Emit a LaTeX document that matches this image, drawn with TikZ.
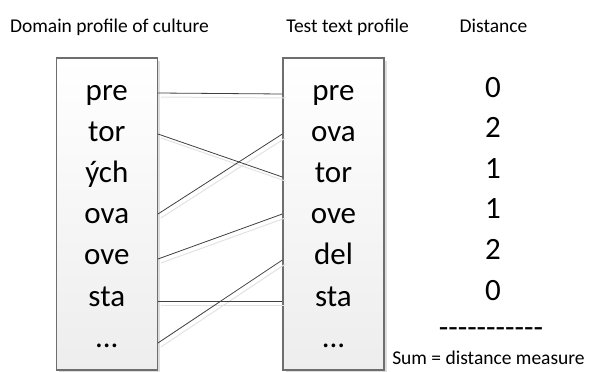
\documentclass[tikz,border=0pt]{standalone}
\usepackage{fontspec}
\setmainfont{Carlito}
\usetikzlibrary{shadows}
\definecolor{boxline}{HTML}{6E6E6E}
\definecolor{connline}{HTML}{404040}
\definecolor{connshadow}{HTML}{E2E2E2}
\tikzset{
  profilebox/.style={draw=boxline, line width=1.3pt, top color=white, bottom color=black!7,
    minimum width=101pt, minimum height=312pt, inner sep=0pt,
    drop shadow={shadow xshift=3pt, shadow yshift=-3pt, fill=black!13, opacity=1}},
  word/.style={anchor=base, font=\fontsize{31}{34}\selectfont, inner sep=0pt},
  title/.style={anchor=base, font=\fontsize{19.5}{22}\selectfont, inner sep=0pt},
  conn/.style={draw=connline, line width=0.8pt},
  connsh/.style={draw=connshadow, line width=1pt},
}
\begin{document}
\begin{tikzpicture}[x=1pt,y=-1pt]
\useasboundingbox (0,0) rectangle (590,372);
% titles
\node[title] (t1) at (109.5,32) {Domain profile of culture};
\node[title] (t2) at (347.5,32) {Test text profile};
\node[title] (t3) at (493.5,32) {Distance};
% boxes
\node[profilebox] (lbox) at (106.8,214) {};
\node[profilebox] (rbox) at (333.5,214) {};
% connector shadows
\foreach \a/\b in {93/94, 134/177, 214/134, 259/214, 301/301, 343/260}{
  \draw[connsh] ([shift={(3,4)}]lbox.east |- 0,\a) -- ([shift={(3,4)}]rbox.west |- 0,\b);
}
% connectors
\foreach \a/\b in {93/94, 134/177, 214/134, 259/214, 301/301, 343/260}{
  \draw[conn] (lbox.east |- 0,\a) -- (rbox.west |- 0,\b);
}
% left words
\foreach \w [count=\i from 0] in {pre,tor,ých,ova,ove,sta}{
  \node[word] (l\i) at (106.8,{100+41.2*\i}) {\w};
}
\node[word] (l6) at (106.8,{100+41.2*6}) {...};
% right words
\foreach \w [count=\i from 0] in {pre,ova,tor,ove,del,sta}{
  \node[word] (r\i) at (333.5,{100+41.2*\i}) {\w};
}
\node[word] (r6) at (333.5,{100+41.2*6}) {...};
% distances
\foreach \w [count=\i from 0] in {0,2,1,1,2,0}{
  \node[word] (d\i) at (493,{97+40.6*\i}) {\w};
}
\node[word] (dash) at (491,337) {-\kern0pt-\kern0pt-\kern0pt-\kern0pt-\kern0pt-\kern0pt-\kern0pt-\kern0pt-\kern0pt-\kern0pt-};
\node[title] (sum) at (488.5,364) {Sum = distance measure};
\end{tikzpicture}
\end{document}
